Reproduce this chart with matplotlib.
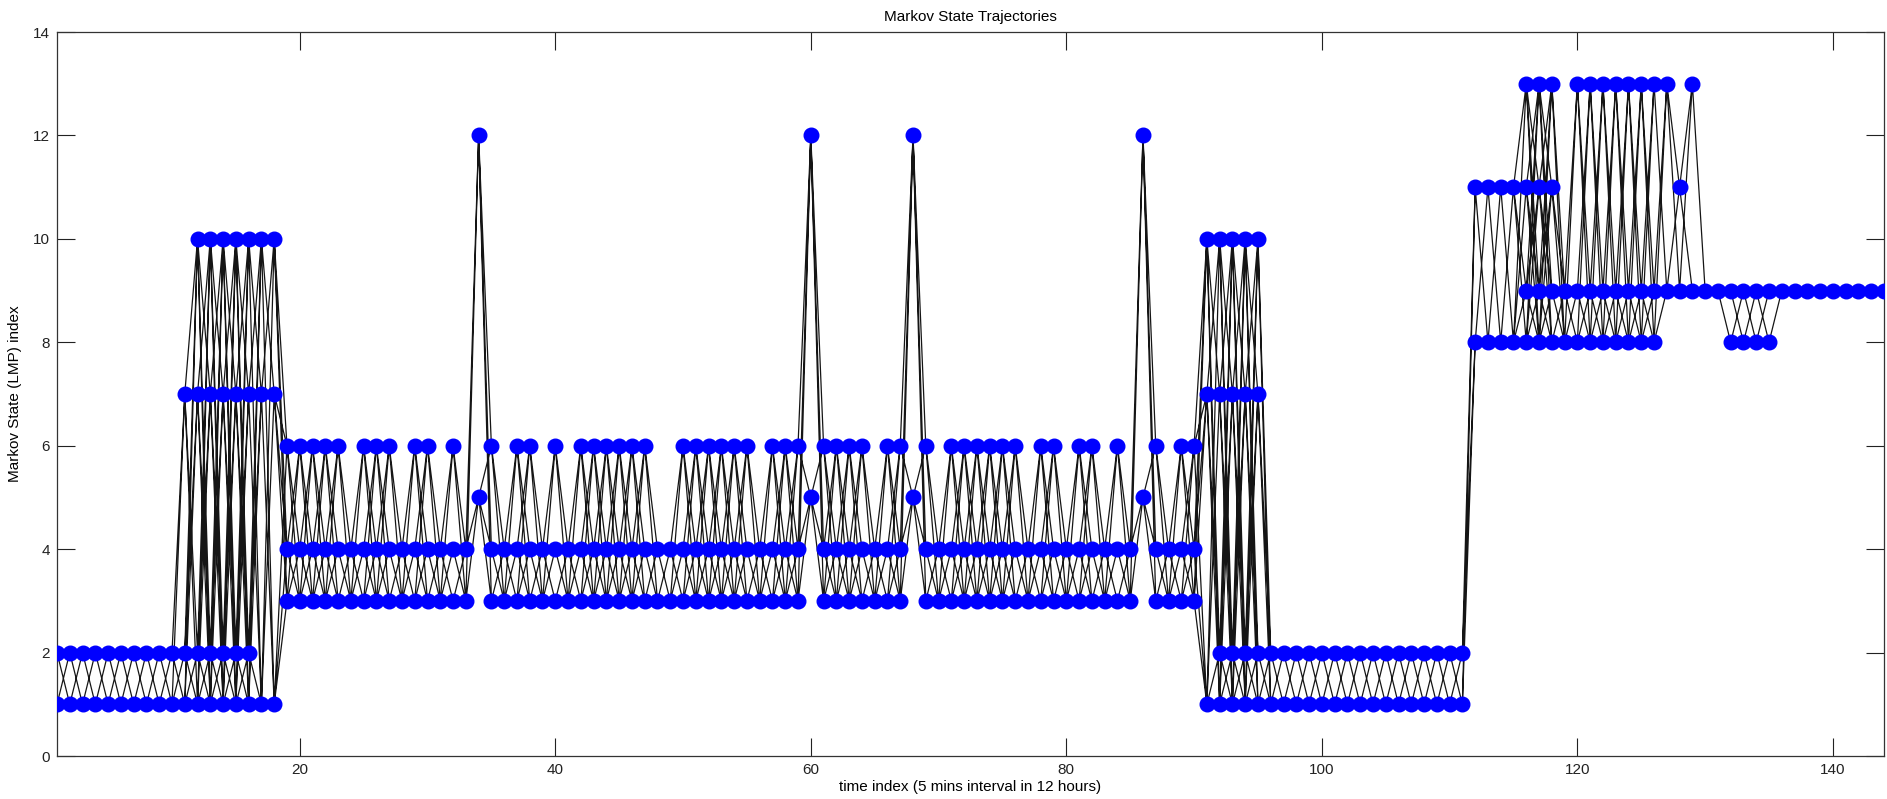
import numpy as np
import matplotlib
matplotlib.use('Agg')
import matplotlib.pyplot as plt

# ---------------- data ----------------
time_index = np.arange(1, 145)

# visited Markov states over ranges of the time index (inclusive)
range_starts = [1, 11, 12, 17, 19, 34, 35, 60, 61, 68, 69, 86, 87, 91, 92, 96,
                112, 116, 119, 120, 127, 128, 129, 130, 132, 136]
range_ends = [10, 11, 16, 18, 33, 34, 59, 60, 67, 68, 85, 86, 90, 91, 95, 111,
              115, 118, 119, 126, 127, 128, 129, 131, 135, 144]
range_states = [[1, 2], [1, 2, 7], [1, 2, 7, 10], [1, 7, 10], [3, 4], [5, 12],
                [3, 4], [5, 12], [3, 4], [5, 12], [3, 4], [5, 12], [3, 4],
                [1, 7, 10], [1, 2, 7, 10], [1, 2], [8, 11], [8, 9, 11, 13],
                [8, 9], [8, 9, 13], [9, 13], [9, 11], [9, 13], [9], [8, 9], [9]]

# additional visits of state 6
state6_times = [19, 20, 21, 22, 23, 25, 26, 27, 29, 30, 32,
                35, 37, 38, 40, 42, 43, 44, 45, 46, 47, 50, 51, 52, 53, 54, 55,
                57, 58, 59, 61, 62, 63, 64, 66, 67, 69, 71, 72, 73, 74, 75, 76,
                78, 79, 81, 82, 84, 87, 89, 90]

# ---------------- build state sets ----------------
state_sets = {t: set() for t in time_index}
for a, b, s in zip(range_starts, range_ends, range_states):
    for t in range(a, b + 1):
        state_sets[t].update(s)
for t in state6_times:
    state_sets[t].add(6)

# ---------------- figure ----------------
fig = plt.figure(figsize=(18.87, 7.99), dpi=100)
ax = fig.add_axes([57 / 1887, 43 / 799, (1884 - 57) / 1887, (756 - 32) / 799])

font = ['Liberation Sans Narrow', 'Liberation Sans', 'DejaVu Sans']

xs, ys = [], []
for t in time_index[:-1]:
    for s0 in sorted(state_sets[t]):
        for s1 in sorted(state_sets[t + 1]):
            xs += [t, t + 1, np.nan]
            ys += [s0, s1, np.nan]
ax.plot(xs, ys, color='#151515', lw=0.9, zorder=2)

px, py = [], []
for t in time_index:
    for s in sorted(state_sets[t]):
        px.append(t)
        py.append(s)
ax.plot(px, py, linestyle='none', marker='o', markersize=10.5,
        markerfacecolor='#0000ff', markeredgecolor='#0000ff', zorder=3)

ax.set_xlim(1, 144)
ax.set_ylim(0, 14)
ax.set_xticks([20, 40, 60, 80, 100, 120, 140])
ax.set_yticks(np.arange(0, 15, 2))
ax.tick_params(direction='in', length=13, width=0.8, top=True, right=True,
               labelsize=11, pad=5, colors='#222222')
for lab in ax.get_xticklabels() + ax.get_yticklabels():
    lab.set_family(font)
for sp in ax.spines.values():
    sp.set_linewidth(0.9)
    sp.set_color('#333333')

ax.set_title('Markov State Trajectories', fontsize=11, family=font, pad=8)
ax.set_xlabel('time index (5 mins interval in 12 hours)', fontsize=11,
              family=font, labelpad=2)
ax.set_ylabel('Markov State (LMP) index', fontsize=11, family=font, labelpad=8)

fig.savefig('out.png', dpi=100)
